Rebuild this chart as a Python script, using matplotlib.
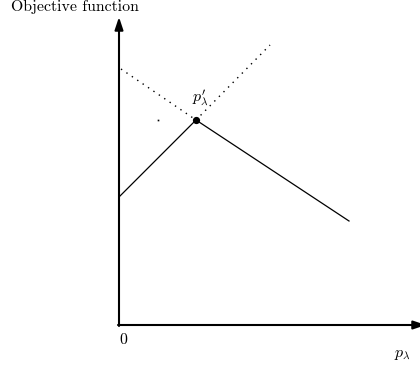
import matplotlib.pyplot as plt

# piecewise objective (solid) and its dotted extensions
solid_x = [0, 77, 230]
solid_y = [128, 205, 104]
left_dot_x = [2, 77]
left_dot_y = [256, 205]
right_dot_x = [77, 151]
right_dot_y = [205, 280]
peak = (77, 205)
stray = (39, 205)

plt.rcParams['mathtext.fontset'] = 'cm'
serif = 'cmr10'

fig = plt.figure(figsize=(4.2, 3.71), dpi=100)
ax = fig.add_axes([0, 0, 1, 1])
ax.set_xlim(-119, 301)
ax.set_ylim(-46, 325)
ax.axis('off')

# axes with arrow heads
head = '-|>,head_length=0.75,head_width=0.25'
ax.annotate('', xy=(0, 308), xytext=(0, -1), annotation_clip=False,
            arrowprops=dict(arrowstyle=head, lw=1.5, color='black',
                            shrinkA=0, shrinkB=0))
ax.annotate('', xy=(307, 0), xytext=(-1, 0), annotation_clip=False,
            arrowprops=dict(arrowstyle=head, lw=1.5, color='black',
                            shrinkA=0, shrinkB=0))

ax.plot(solid_x, solid_y, color='black', lw=0.9)
ax.plot(left_dot_x, left_dot_y, color='black', lw=1.0, linestyle=(0, (1, 3.7)))
ax.plot(right_dot_x, right_dot_y, color='black', lw=1.0, linestyle=(0, (1, 3.7)))
ax.plot(*stray, marker='s', ms=1.2, mew=0, color='black')
ax.plot(*peak, marker='o', ms=4.2, color='black')

ax.text(-108, 318, 'Objective function', fontfamily=serif, fontsize=11.4,
        ha='left', va='center')
ax.text(0, -15, '0', fontfamily=serif, fontsize=11.4, ha='left', va='center')
ax.text(283, -30, r'$p_\lambda$', fontsize=11.5, ha='center', va='center')
ax.text(81, 228, r"$p^{\prime}_{\lambda}$", fontsize=11.5, ha='center', va='center')

fig.savefig('out.png', dpi=100)
